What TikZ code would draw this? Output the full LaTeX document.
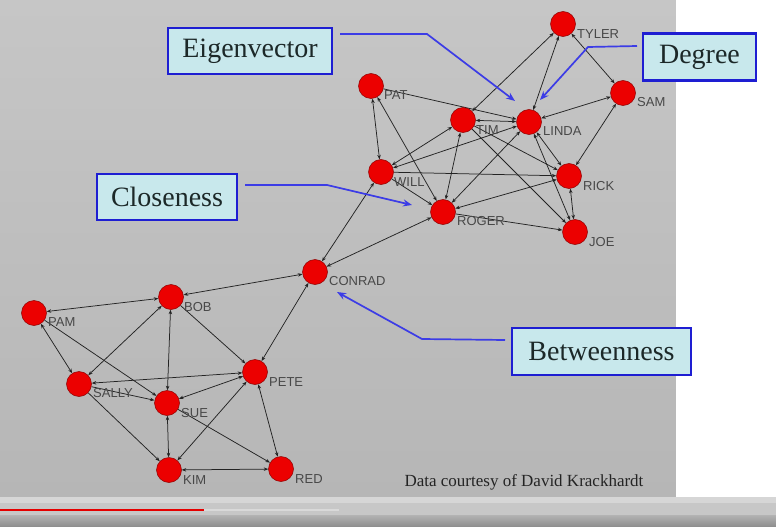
\documentclass[tikz,border=0pt]{standalone}
\usepackage{fontspec}
\setmainfont{Liberation Serif}
\setsansfont{Liberation Sans}
\usetikzlibrary{arrows.meta}
\pgfdeclarelayer{back}
\pgfdeclarelayer{edges}
\pgfsetlayers{back,edges,main}
\definecolor{bgtop}{RGB}{198,198,198}
\definecolor{bgbot}{RGB}{182,182,182}
\definecolor{nodered}{RGB}{236,0,0}
\definecolor{edgec}{RGB}{35,35,35}
\definecolor{boxfill}{RGB}{200,232,236}
\definecolor{boxline}{RGB}{30,30,210}
\definecolor{boxtext}{RGB}{28,40,40}
\definecolor{annline}{RGB}{60,60,230}
\definecolor{lblc}{RGB}{72,72,72}
\definecolor{datac}{RGB}{36,36,36}
\tikzset{
  actor/.style={circle,fill=nodered,draw=red!55!black,line width=0.5pt,minimum size=25pt,inner sep=0pt},
  lbl/.style={anchor=west,font=\sffamily\fontsize{13}{14}\selectfont,text=lblc,inner sep=0pt},
  tie/.style={draw=edgec,line width=0.75pt,-{Stealth[length=4.5pt,width=3.5pt]}},
  mutual/.style={draw=edgec,line width=0.75pt,{Stealth[length=4.5pt,width=3.5pt]}-{Stealth[length=4.5pt,width=3.5pt]}},
  measure/.style={draw=boxline,line width=2.4pt,fill=boxfill,font=\fontsize{28}{30}\selectfont,text=boxtext,inner sep=0pt},
  pointer/.style={draw=annline,line width=1.7pt,-{Stealth[length=9pt,width=7pt]}}
}
\begin{document}
\begin{tikzpicture}[x=1pt,y=-1pt]
\useasboundingbox (0,0) rectangle (776,527);
\begin{pgfonlayer}{back}
  \shade[top color=bgtop,bottom color=bgbot] (0,0) rectangle (676,497);
  \fill[white] (676,0) rectangle (776,497);
  \fill[black!16] (0,497) rectangle (776,503);
  \fill[black!22] (0,503) rectangle (776,515);
  \shade[top color=black!30,bottom color=black!45] (0,515) rectangle (776,527);
  \draw[white!85!black,line width=2.5pt] (204,510) -- (339,510);
  \draw[red!90!black,line width=2.5pt] (0,510) -- (204,510);
\end{pgfonlayer}

% actors
\node[actor] (tyler) at (563,24) {};
\node[actor] (sam) at (623,93) {};
\node[actor] (pat) at (371,86) {};
\node[actor] (tim) at (463,120) {};
\node[actor] (linda) at (529,122) {};
\node[actor] (will) at (381,172) {};
\node[actor] (rick) at (569,176) {};
\node[actor] (roger) at (443,212) {};
\node[actor] (joe) at (575,232) {};
\node[actor] (conrad) at (315,272) {};
\node[actor] (bob) at (171,297) {};
\node[actor] (pam) at (34,313) {};
\node[actor] (pete) at (255,372) {};
\node[actor] (sally) at (79,384) {};
\node[actor] (sue) at (167,403) {};
\node[actor] (kim) at (169,470) {};
\node[actor] (red) at (281,469) {};

% names
\node[lbl] (tylerL) at (577,34) {TYLER};
\node[lbl] (samL) at (637,102) {SAM};
\node[lbl] (patL) at (384,95) {PAT};
\node[lbl] (timL) at (476,130) {TIM};
\node[lbl] (lindaL) at (543,131) {LINDA};
\node[lbl] (willL) at (394,182) {WILL};
\node[lbl] (rickL) at (583,186) {RICK};
\node[lbl] (rogerL) at (457,221) {ROGER};
\node[lbl] (joeL) at (589,242) {JOE};
\node[lbl] (conradL) at (329,281) {CONRAD};
\node[lbl] (bobL) at (184,307) {BOB};
\node[lbl] (pamL) at (48,322) {PAM};
\node[lbl] (peteL) at (269,382) {PETE};
\node[lbl] (sallyL) at (93,393) {SALLY};
\node[lbl] (sueL) at (181,413) {SUE};
\node[lbl] (kimL) at (183,480) {KIM};
\node[lbl] (redL) at (295,479) {RED};

\begin{pgfonlayer}{edges}
  % upper group
  \draw[mutual] (tim) -- (tyler);
  \draw[mutual] (linda) -- (tyler);
  \draw[mutual] (tyler) -- (sam);
  \draw[mutual] (sam) -- (linda);
  \draw[mutual] (sam) -- (rick);
  \draw[tie] (pat) -- (linda);
  \draw[mutual] (pat) -- (will);
  \draw[mutual] (pat) -- (roger);
  \draw[mutual] (tim) -- (will);
  \draw[mutual] (tim) -- (roger);
  \draw[mutual] (tim) -- (linda);
  \draw[tie] (tim) -- (rick);
  \draw[tie] (tim) -- (joe);
  \draw[mutual] (linda) -- (will);
  \draw[mutual] (linda) -- (roger);
  \draw[mutual] (linda) -- (rick);
  \draw[mutual] (linda) -- (joe);
  \draw[tie] (will) -- (rick);
  \draw[tie] (will) -- (roger);
  \draw[mutual] (rick) -- (roger);
  \draw[mutual] (rick) -- (joe);
  \draw[tie] (roger) -- (joe);
  % bridge
  \draw[mutual] (will) -- (conrad);
  \draw[mutual] (roger) -- (conrad);
  \draw[mutual] (conrad) -- (bob);
  \draw[mutual] (conrad) -- (pete);
  % lower group
  \draw[mutual] (bob) -- (pam);
  \draw[mutual] (bob) -- (sally);
  \draw[mutual] (bob) -- (sue);
  \draw[tie] (bob) -- (pete);
  \draw[mutual] (pam) -- (sally);
  \draw[tie] (pam) -- (sue);
  \draw[mutual] (sally) -- (pete);
  \draw[tie] (sally) -- (sue);
  \draw[tie] (sally) -- (kim);
  \draw[mutual] (sue) -- (pete);
  \draw[mutual] (sue) -- (kim);
  \draw[tie] (sue) -- (red);
  \draw[mutual] (pete) -- (kim);
  \draw[mutual] (pete) -- (red);
  \draw[mutual] (kim) -- (red);
\end{pgfonlayer}

% measure boxes
\node[measure,minimum width=164pt,minimum height=46pt] (eig) at (250,51) {Eigenvector};
\node[measure,minimum width=113pt,minimum height=47pt] (deg) at (699.5,57) {Degree};
\node[measure,minimum width=140pt,minimum height=46pt] (clo) at (167,197) {Closeness};
\node[measure,minimum width=179pt,minimum height=47pt] (bet) at (601.5,351.5) {Betweenness};

\coordinate (eigA) at (340,34);
\coordinate (eigB) at (427,34);
\coordinate (eigC) at (515,101);
\coordinate (degA) at (637,46);
\coordinate (degB) at (588,47);
\coordinate (degC) at (540,100);
\coordinate (cloA) at (245,185);
\coordinate (cloB) at (327,185);
\coordinate (cloC) at (412,205);
\coordinate (betA) at (505,340);
\coordinate (betB) at (422,339);
\coordinate (betC) at (337,292);
\draw[pointer] (eigA) -- (eigB) -- (eigC);
\draw[pointer] (degA) -- (degB) -- (degC);
\draw[pointer] (cloA) -- (cloB) -- (cloC);
\draw[pointer] (betA) -- (betB) -- (betC);

\node[font=\fontsize{17}{19}\selectfont,text=datac,anchor=base] (credit) at (524,486) {Data courtesy of David Krackhardt};
\end{tikzpicture}
\end{document}
